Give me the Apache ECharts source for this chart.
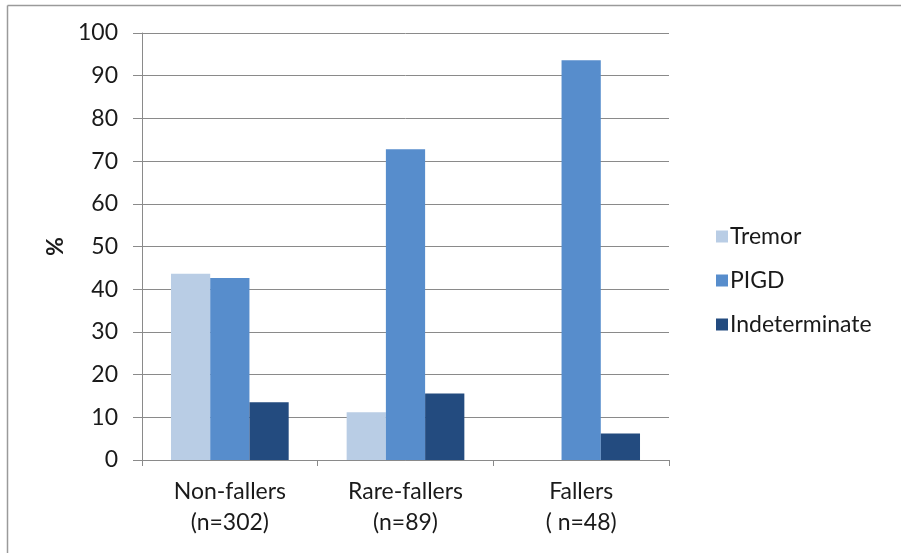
<!DOCTYPE html>
<html>
<head>
<meta charset="utf-8">
<script src="https://cdn.jsdelivr.net/npm/echarts@6/dist/echarts.min.js"></script>
<style>
  html, body { margin: 0; padding: 0; background: #fff; }
  #chart { width: 901px; height: 553px; }
</style>
</head>
<body>
<div id="chart"></div>
<script>
// Fall-status groups on the x axis
const categories = ['Non-fallers\n(n=302)', 'Rare-fallers\n(n=89)', 'Fallers\n( n=48)'];
// Percentage of each motor subtype within a group
const tremor = [43.6, 11.2, 0];
const pigd = [42.6, 72.8, 93.6];
const indeterminate = [13.5, 15.6, 6.2];
// Value axis ticks
const yMin = 0, yMax = 100, yStep = 10;

const font = 'Lato, "Open Sans", sans-serif';
const gray = '#8a8a8a';
const ink = '#1a1a1a';

const chart = echarts.init(document.getElementById('chart'), null, { renderer: 'canvas' });

chart.setOption({
  backgroundColor: '#ffffff',
  animation: false,
  textStyle: { fontFamily: font },
  graphic: [
    // thin frame on the top and left edges
    { type: 'line', shape: { x1: 7.5, y1: 5.5, x2: 901, y2: 5.5 }, style: { stroke: '#9a9a9a', lineWidth: 1.5 } },
    { type: 'line', shape: { x1: 7.5, y1: 5.5, x2: 7.5, y2: 553 }, style: { stroke: '#9a9a9a', lineWidth: 1.5 } }
  ],
  grid: { left: 142, right: 232, top: 33, bottom: 93, containLabel: false },
  legend: {
    orient: 'vertical',
    left: 711,
    top: 220,
    itemWidth: 12,
    itemHeight: 12,
    itemGap: 21,
    icon: 'rect',
    textStyle: { fontFamily: font, fontSize: 23, color: ink, padding: [0, 0, 0, -3] },
    data: ['Tremor', 'PIGD', 'Indeterminate']
  },
  xAxis: {
    type: 'category',
    data: categories,
    axisLine: { lineStyle: { color: gray, width: 1 } },
    axisTick: { show: true, length: 6, lineStyle: { color: gray } },
    axisLabel: {
      fontFamily: font, fontSize: 23, color: ink, lineHeight: 31, margin: 16
    }
  },
  yAxis: {
    type: 'value',
    min: yMin, max: yMax, interval: yStep,
    name: '%',
    nameLocation: 'middle',
    nameRotate: 90,
    nameGap: 72,
    nameTextStyle: { fontFamily: font, fontSize: 23, fontWeight: 'bold', color: ink },
    axisLine: { show: true, lineStyle: { color: gray, width: 1 } },
    axisTick: { show: true, length: 9, lineStyle: { color: gray } },
    axisLabel: { fontFamily: font, fontSize: 23, color: ink, margin: 24 },
    splitLine: { show: true, lineStyle: { color: gray, width: 1 } }
  },
  series: [
    { name: 'Tremor', type: 'bar', data: tremor, barGap: '0%', barCategoryGap: '33%', itemStyle: { color: '#b9cde5' } },
    { name: 'PIGD', type: 'bar', data: pigd, itemStyle: { color: '#578dcc' } },
    { name: 'Indeterminate', type: 'bar', data: indeterminate, itemStyle: { color: '#234b7f' } }
  ]
});
</script>
</body>
</html>
